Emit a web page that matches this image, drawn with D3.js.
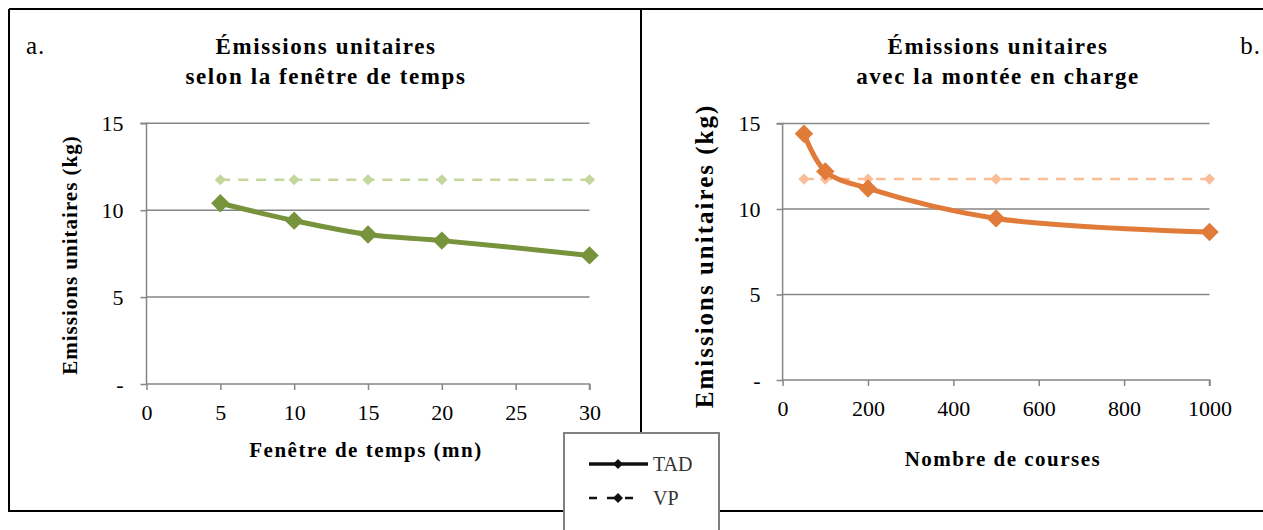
<!DOCTYPE html>
<html>
<head>
<meta charset="utf-8">
<script src="https://cdn.jsdelivr.net/npm/d3@7"></script>
<style>
  html, body { margin: 0; padding: 0; background: #fff; }
  svg { display: block; }
</style>
</head>
<body>
<svg id="chart" width="1263" height="530"></svg>
<script>
// ---- Data ----
const yTicks = [0, 5, 10, 15];

// Panel a: time window
const timeWindow = [5, 10, 15, 20, 30];
const tadA = [10.4, 9.4, 8.6, 8.25, 7.4];
const vpA = [11.75, 11.75, 11.75, 11.75, 11.75];
const xTicksA = [0, 5, 10, 15, 20, 25, 30];

// Panel b: number of rides
const nbCourses = [50, 100, 200, 500, 1000];
const tadB = [14.4, 12.2, 11.2, 9.45, 8.65];
const vpB = [11.75, 11.75, 11.75, 11.75, 11.75];
const xTicksB = [0, 200, 400, 600, 800, 1000];

const legendLabels = ["TAD", "VP"];

const svg = d3.select("#chart");
const serif = "Liberation Serif, Times New Roman, serif";

// Panel borders
svg.append("path")
  .attr("d", "M9,9 H1263 M9,9 V511 H1263 M641,9 V511")
  .attr("fill", "none").attr("stroke", "#000").attr("stroke-width", 2);

function txt(g, size, bold, ls) {
  return g.append("text")
    .attr("font-family", serif)
    .attr("font-size", size)
    .attr("font-weight", bold ? "bold" : "normal")
    .attr("letter-spacing", ls || 0)
    .attr("fill", "#000");
}

function panel(cfg) {
  const x = d3.scaleLinear().domain(cfg.xDomain).range(cfg.xRange);
  const y = d3.scaleLinear().domain([0, 15]).range(cfg.yRange);
  const g = svg.append("g");

  // gridlines
  g.selectAll(".grid").data(yTicks.filter(d => d > 0)).join("line")
    .attr("x1", x.range()[0]).attr("x2", x.range()[1])
    .attr("y1", d => y(d)).attr("y2", d => y(d))
    .attr("stroke", "#868686").attr("stroke-width", 1.5);

  // y axis
  const yAxis = d3.axisLeft(y).tickValues(yTicks).tickSize(6).tickPadding(cfg.yPad)
    .tickFormat(d => d === 0 ? "-" : String(d));
  const ya = g.append("g").attr("transform", `translate(${x.range()[0]},0)`).call(yAxis);
  // x axis
  const xAxis = d3.axisBottom(x).tickValues(cfg.xTicks).tickSize(6).tickPadding(14)
    .tickFormat(d => String(d));
  const xa = g.append("g").attr("transform", `translate(0,${y(0)})`).call(xAxis);
  [ya, xa].forEach(a => {
    a.attr("font-family", serif).attr("font-size", cfg.tickFont);
    a.select(".domain").attr("stroke", "#868686").attr("stroke-width", 1.5);
    a.selectAll(".tick line").attr("stroke", "#868686").attr("stroke-width", 1.5);
    a.selectAll(".tick text").attr("fill", "#000");
  });
  ya.select(".domain").attr("d", `M-6,${y(15)}H0V${y(0)}`);
  xa.select(".domain").attr("d", `M${x.range()[0]},0H${x.range()[1]}V6`);

  const line = d3.line().x(d => x(d[0])).y(d => y(d[1])).curve(d3.curveCatmullRom.alpha(0.5));
  const diamond = (s) => d3.symbol(d3.symbolSquare, s);

  // VP
  const vp = cfg.xs.map((v, i) => [v, cfg.vp[i]]);
  g.append("path").attr("d", line(vp)).attr("fill", "none")
    .attr("stroke", cfg.light).attr("stroke-width", 2.5).attr("stroke-dasharray", "10,8");
  g.selectAll(".vpm").data(vp).join("path")
    .attr("d", diamond(62)())
    .attr("transform", d => `translate(${x(d[0])},${y(d[1])}) rotate(45)`)
    .attr("fill", cfg.light);

  // TAD
  const tad = cfg.xs.map((v, i) => [v, cfg.tad[i]]);
  g.append("path").attr("d", line(tad)).attr("fill", "none")
    .attr("stroke", cfg.dark).attr("stroke-width", 5);
  g.selectAll(".tadm").data(tad).join("path")
    .attr("d", diamond(170)())
    .attr("transform", d => `translate(${x(d[0])},${y(d[1])}) rotate(45)`)
    .attr("fill", cfg.dark);

  // titles
  const t = txt(g, 23, true, 1.6).attr("text-anchor", "middle");
  t.append("tspan").attr("x", cfg.titleX).attr("y", 54).text(cfg.title[0]);
  t.append("tspan").attr("x", cfg.titleX).attr("y", 84).text(cfg.title[1]);

  txt(g, 25, false, 1).attr("x", cfg.letter[0]).attr("y", 54)
    .attr("text-anchor", cfg.letter[1]).text(cfg.letter[2]);

  txt(g, cfg.yTitle[2], true, cfg.yTitle[3])
    .attr("transform", `translate(${cfg.yTitle[0]},${cfg.yTitle[1]}) rotate(-90)`)
    .attr("text-anchor", "middle")
    .text("Emissions unitaires (kg)");

  txt(g, 21, true, 1.5).attr("x", cfg.xTitle[0]).attr("y", cfg.xTitle[1])
    .attr("text-anchor", "middle")
    .text(cfg.xLabel);
}

panel({
  xDomain: [0, 30], xRange: [146.5, 589.5], yRange: [384, 123.3],
  xTicks: xTicksA, xs: timeWindow, tad: tadA, vp: vpA,
  dark: "#77933C", light: "#C3D69B",
  title: ["Émissions unitaires", "selon la fenêtre de temps"], titleX: 326,
  letter: [26, "start", "a."],
  yTitle: [77, 255, 21, 1], xTitle: [366, 457], xLabel: "Fenêtre de temps (mn)",
  tickFont: 22, yPad: 17
});

panel({
  xDomain: [0, 1000], xRange: [782.6, 1209.5], yRange: [380, 123.5],
  xTicks: xTicksB, xs: nbCourses, tad: tadB, vp: vpB,
  dark: "#E07B39", light: "#F9BE98",
  title: ["Émissions unitaires", "avec la montée en charge"], titleX: 998,
  letter: [1261, "end", "b."],
  yTitle: [713, 256, 25, 2], xTitle: [1003, 466], xLabel: "Nombre de courses",
  tickFont: 22, yPad: 16
});

// Legend
const lg = svg.append("g");
lg.append("rect").attr("x", 564).attr("y", 433).attr("width", 155).attr("height", 110)
  .attr("fill", "#fff").attr("stroke", "#808080").attr("stroke-width", 2);
const legItems = legendLabels.map((l, i) => ({ label: l, y: 464 + i * 34, dash: i === 1 }));
legItems.forEach(it => {
  lg.append("line").attr("x1", 589).attr("x2", it.dash ? 638 : 648)
    .attr("y1", it.y).attr("y2", it.y)
    .attr("stroke", "#111").attr("stroke-width", it.dash ? 2.5 : 3.5)
    .attr("stroke-dasharray", it.dash ? "8,10" : null);
  lg.append("path").attr("d", d3.symbol(d3.symbolSquare, 50)())
    .attr("transform", `translate(618,${it.y}) rotate(45)`).attr("fill", "#111");
  txt(lg, 20, false, 0).attr("x", 653).attr("y", it.y + 7)
    .attr("fill", "#333").text(it.label);
});
</script>
</body>
</html>
